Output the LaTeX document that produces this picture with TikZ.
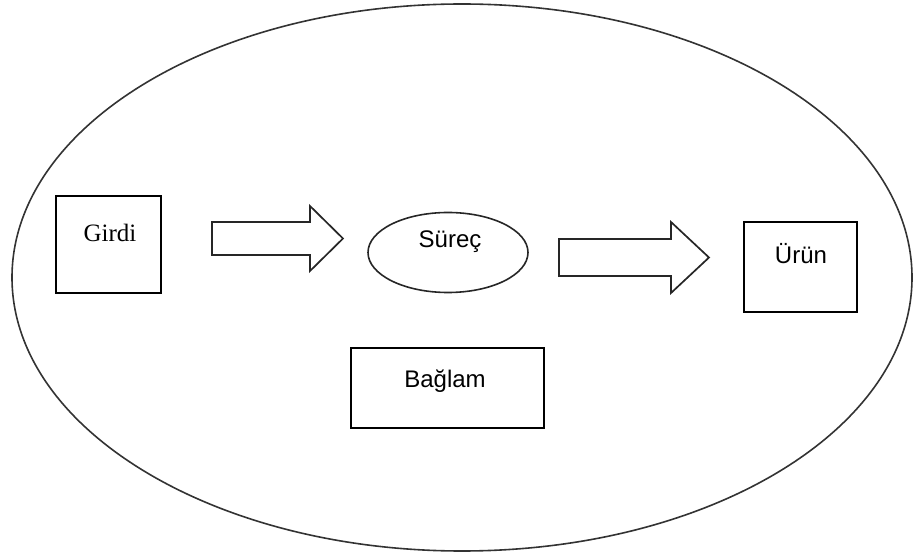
\documentclass[tikz,border=0pt]{standalone}
\usepackage{fontspec}
\setmainfont{Liberation Sans}
\newfontfamily\serifface{Liberation Serif}
\begin{document}
\begin{tikzpicture}[x=1pt,y=-1pt,
  boxstyle/.style={draw=black,line width=1.8pt,rectangle,inner sep=0pt},
  blockarrow/.style={draw=black!85,line width=1.7pt,line join=miter,fill=white},
  lbl/.style={inner sep=0pt,font=\fontsize{24}{27}\selectfont}]
\useasboundingbox (0,0) rectangle (913,553);
% outer ellipse
\draw[line width=1.6pt,black!80] (462,277.5) ellipse [x radius=450, y radius=273.5];
% boxes
\node[boxstyle,minimum width=105pt,minimum height=97pt] (girdi) at (108.5,244.5) {};
\node[lbl,font=\serifface\fontsize{25}{27}\selectfont] (girditxt) at (110,233) {Girdi};
\draw[line width=1.6pt,black!85] (448,252.5) ellipse [x radius=80, y radius=40];
\node[lbl] (surec) at (450,242) {Süreç};
\node[boxstyle,minimum width=113pt,minimum height=90pt] (urun) at (800.5,267) {};
\node[lbl] (uruntxt) at (801,254) {Ürün};
\node[boxstyle,minimum width=193pt,minimum height=80pt] (baglam) at (447.5,388) {};
\node[lbl] (baglamtxt) at (445,381) {Bağlam};
% block arrows
\draw[blockarrow] (212,222) -- (310,222) -- (310,206) -- (343,238.5) -- (310,271) -- (310,255) -- (212,255) -- cycle;
\draw[blockarrow] (559,239) -- (671,239) -- (671,222) -- (709,257.5) -- (671,293) -- (671,276) -- (559,276) -- cycle;
\end{tikzpicture}
\end{document}
